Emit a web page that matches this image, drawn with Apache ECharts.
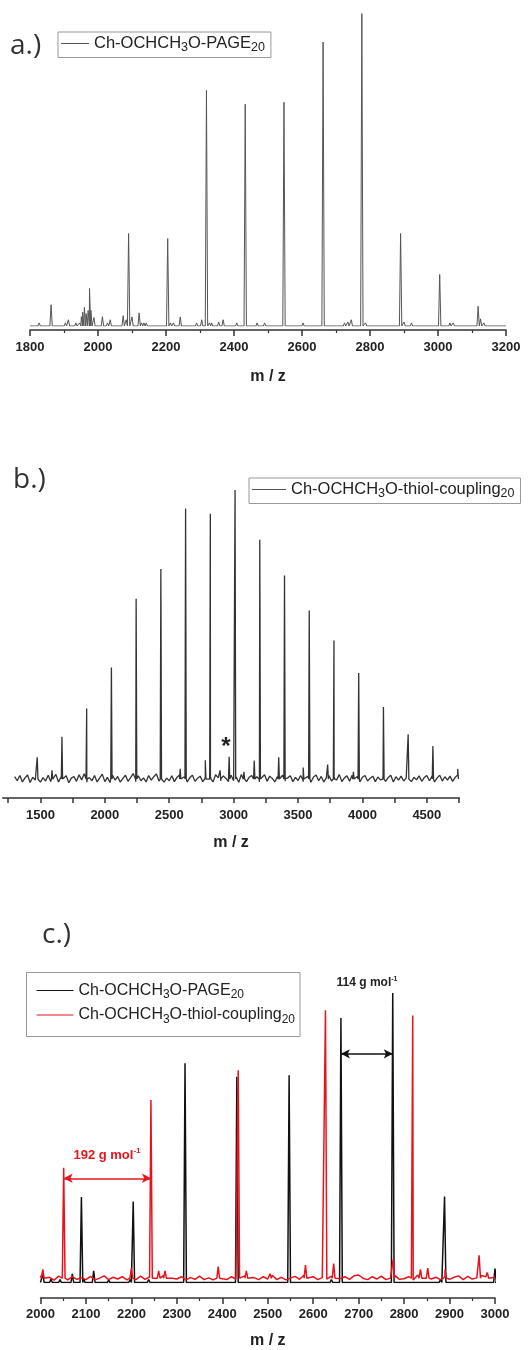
<!DOCTYPE html>
<html><head><meta charset="utf-8">
<script src="https://cdn.jsdelivr.net/npm/echarts@6/dist/echarts.min.js"></script>
<style>html,body{margin:0;padding:0;background:#fff}#c{width:528px;height:1350px}</style>
</head><body><div id="c"></div>
<script>
// ---------- DATA ----------
// Panel a: Ch-OCHCH3O-PAGE20, [m/z, relative intensity]
const aPeaks = [
  [1827,1],[1862,6.8],[1904,1],[1913,2],[1935,1],[1946,1],[1951,3],[1955,4.5],[1960,6],[1965,4],
  [1971,5],[1975,12],[1979,5],[1988,2.7],[2013,3],[2028,1],[2036,2],[2074,3.3],[2083,2],[2090,29.6],
  [2100,2.9],[2121,4.2],[2128,1],[2135,1],[2142,1],[2205,28],[2213,1],[2222,1],[2242,2.9],[2290,1],
  [2305,2],[2319,75.4],[2328,1],[2334,1],[2355,1.3],[2368,2],[2408,1],[2433,71],[2468,1],[2490,1],
  [2547,71.6],[2603,1],[2662,90.9],[2725,1],[2735,1.3],[2745,2],[2776,100],[2787,1],[2890,29.6],[2900,1.3],
  [2922,1],[3005,16.5],[3035,1],[3045,1],[3118,6.3],[3125,2.3],[3135,1]
];
// Panel b: Ch-OCHCH3O-thiol-coupling20 peaks
const bPeaks = [
  [1475,7.5],[1590,3],[1667,14.6],[1859,24.4],[2051,38.6],[2243,62.4],[2435,72.7],[2585,3.5],[2627,93.6],
  [2780,6.5],[2819,91.8],[2895,3],[2965,7.7],[3011,100],[3080,2.5],[3160,6.4],[3203,82.8],[3350,7.5],
  [3395,70.4],[3540,4],[3587,58.3],[3730,5],[3779,47.9],[3930,2.5],[3971,36.7],[4163,24.9],[4355,15.5],
  [4547,11.4],[4740,3.5]
];
// Panel b baseline noise, one value every 20 m/z from 1300
const bNoiseStart = 1300, bNoiseStep = 20;
const bNoise = [
  0.8,-0.6,1.2,-1.0,0.4,1.4,-1.2,0.6,-0.4,1.0,
  -1.1,0.5,-0.7,1.3,-0.9,0.2,1.6,-1.0,0.7,-0.5,
  1.1,-1.3,0.3,0.9,-0.8,1.5,-0.3,1.8,-1.1,0.5,
  -0.6,1.2,-1.0,0.4,1.7,-0.9,0.6,-1.2,1.3,-0.4,
  0.9,-1.1,0.2,1.3,-0.8,0.5,1.9,-0.9,1.1,-0.6,
  0.4,-1.0,1.2,-0.4,0.8,1.8,-0.7,1.0,-1.1,0.3,
  -0.6,1.1,-0.9,0.6,1.4,-0.5,0.9,-1.0,0.5,1.3,
  -0.8,0.3,1.0,-0.9,0.7,-0.3,0.8,-1.0,1.5,0.4,
  -0.7,1.1,0.2,-0.9,1.3,-0.6,0.7,-1.1,1.6,0.3,
  -0.9,0.6,1.2,-0.5,0.8,-1.0,0.5,1.5,-0.8,1.0,
  0.2,-1.0,0.9,-0.4,1.3,-0.8,0.4,1.1,-0.9,0.6,
  -0.5,1.2,-0.9,0.3,1.0,-1.1,0.7,1.4,-0.6,0.9,
  -1.0,0.5,1.2,-0.7,0.8,-0.3,1.6,-0.9,0.4,1.1,
  -0.8,1.3,-0.4,0.9,-1.0,0.6,1.2,-0.7,0.3,1.0,
  -0.9,0.7,-0.3,1.1,-0.8,0.5,1.3,-1.0,0.8,-0.4,
  1.0,-0.7,0.4,1.2,-0.9,0.6,-0.3,1.1,-0.8,0.5,
  1.2,-0.6,0.9,-1.0,0.4,1.3,-0.7,0.8,-0.4,1.0,
  -0.8,0.6,1.4
];
// Panel c: overlay, PAGE20 (black)
const cPagePeaks = [
  [2005,3],[2023,1.2],[2043,1],[2070,3],[2090,29.5],[2095,1.5],[2117,4],[2150,0.8],[2197,1],[2204,28],
  [2238,1],[2318,75.7],[2363,0.6],[2432,71.1],[2547,71.6],[2640,1],[2661,91.4],[2775,100],[2880,1],
  [2889,29.7],[2920,0.6],[3000,4.8]
];
// Panel c: thiol-coupling20 (red) peaks
const cThiolPeaks = [
  [2005,4.5],[2051,39.6],[2200,5],[2243,63],[2260,4],[2274,4],[2391,5.5],[2435,73.3],[2453,4],[2505,3],
  [2583,6],[2627,94],[2645,6.5],[2776,8],[2819,92.2],[2836,4.5],[2852,5],[2890,4.5],[2965,9.4],[2983,3.5]
];
// Panel c red baseline noise, one value every 10 m/z from 2000
const cNoiseStart = 2000, cNoiseStep = 10;
const cThiolNoise = [
  2.4,1.0,1.8,0.8,2.2,1.2,0.9,2.0,1.1,1.6,
  1.0,2.1,0.9,1.5,2.3,1.0,1.8,1.2,2.0,0.9,
  1.4,1.0,2.2,1.1,1.9,0.9,1.6,2.4,1.0,1.5,
  1.2,2.0,0.9,1.7,1.1,2.2,1.0,1.6,0.9,2.1,
  1.3,1.0,2.0,1.2,0.9,2.3,1.1,1.7,1.0,2.0,
  1.2,2.5,1.0,1.8,0.9,1.5,2.1,1.1,2.6,1.3,
  2.0,1.0,1.7,1.2,2.2,1.0,1.4,2.0,1.1,2.3,
  2.6,1.4,1.0,2.0,1.2,2.2,1.0,1.5,2.4,1.1,
  1.3,2.0,0.9,2.6,1.1,2.0,1.2,1.8,1.0,2.2,
  1.1,1.8,2.3,1.0,2.1,1.2,1.6,2.4,2.0,1.3,
  1.8
];
// tick labels
const aTickLabels = [1800,2000,2200,2400,2600,2800,3000,3200];
const bTickLabels = [1500,2000,2500,3000,3500,4000,4500];
const bTickMarks = [1250,1500,1750,2000,2250,2500,2750,3000,3250,3500,3750,4000,4250,4500,4750];
const cTickLabels = [2000,2100,2200,2300,2400,2500,2600,2700,2800,2900,3000];
// annotation data: mass differences between neighbouring peaks
const cDiffPAGE = [2661, 2775];
const cDiffThiol = [2051, 2243];
// series names and legend texts
const seriesNames = ['aPAGE','bThiol','cPAGE','cThiol'];
const legendTexts = {
  aPAGE: '{n|Ch-OCHCH}{s|3}{n|O-PAGE}{s|20}',
  bThiol: '{n|Ch-OCHCH}{s|3}{n|O-thiol-coupling}{s|20}',
  cPAGE: '{n|Ch-OCHCH}{s|3}{n|O-PAGE}{s|20}',
  cThiol: '{n|Ch-OCHCH}{s|3}{n|O-thiol-coupling}{s|20}'
};

// ---------- build ----------
function sticks(peaks, hw, base) {
  const out = [];
  peaks.forEach(p => { out.push([p[0]-hw, base], [p[0], p[1]], [p[0]+hw, base]); });
  return out;
}
function merged(noise, start, step, peaks, hw, base) {
  const pts = noise.map((v,i) => [start + i*step, v]).concat(sticks(peaks, hw, base));
  pts.sort((u,v) => u[0]-v[0]);
  return pts;
}
const aData = [[1800,0]].concat(sticks(aPeaks, 3.5, 0), [[3200,0]]);
const bData = merged(bNoise, bNoiseStart, bNoiseStep, bPeaks, 5, 0);
const cPageData = [[2000,0]].concat(sticks(cPagePeaks, 3, 0), [[3000,0]]);
const cThiolData = merged(cThiolNoise, cNoiseStart, cNoiseStep, cThiolPeaks, 3, 1.5);

const FONT = 'Liberation Sans';
const plain = v => String(v);
const labelStyle = {fontFamily: FONT, fontWeight: 'bold', fontSize: 13, color: '#222', formatter: plain};
const nameStyle = {fontFamily: FONT, fontWeight: 'bold', fontSize: 16, color: '#222'};
const axisLine = {show: true, onZero: false, lineStyle: {color: '#333', width: 1.5}};
function legendText(size) {
  return {
    fontFamily: FONT, fontSize: size, color: '#222',
    rich: {
      n: {fontFamily: FONT, fontSize: size, color: '#222'},
      s: {fontFamily: FONT, fontSize: size - 4, color: '#222', padding: [9,0,0,0]}
    }
  };
}
const legendBase = {
  orient: 'vertical', icon: 'rect', itemHeight: 1, selectedMode: false,
  borderColor: '#999', borderWidth: 1,
  formatter: name => legendTexts[name]
};

const chart = echarts.init(document.getElementById('c'), null, {renderer: 'canvas'});
chart.setOption({
  animation: false,
  backgroundColor: '#fff',
  grid: [
    {left: 30, right: 22, top: 13.6, height: 312.4},
    {left: 2.7, width: 456.6, top: 490, height: 297.7},
    {left: 40.5, right: 33, top: 993, height: 290.5}
  ],
  xAxis: [
    {type: 'value', gridIndex: 0, min: 1800, max: 3200, interval: 200, offset: 4,
     axisLine, splitLine: {show: false},
     axisTick: {show: true, inside: false, length: 6, lineStyle: {color: '#333', width: 1.5}},
     minorTick: {show: true, splitNumber: 2, length: 3, lineStyle: {color: '#333', width: 1.2}},
     axisLabel: {...labelStyle, margin: 11, customValues: aTickLabels},
     name: 'm / z', nameLocation: 'middle', nameGap: 39, nameTextStyle: nameStyle},
    {type: 'value', gridIndex: 1, min: 1207, max: 4752, offset: 10.3,
     axisLine, splitLine: {show: false},
     axisTick: {show: true, length: 5, customValues: bTickMarks, lineStyle: {color: '#333', width: 1.5}},
     axisLabel: {...labelStyle, margin: 11, customValues: bTickLabels},
     name: 'm / z', nameLocation: 'middle', nameGap: 37, nameTextStyle: nameStyle},
    {type: 'value', gridIndex: 2, min: 2000, max: 3000, interval: 100, offset: 15.5,
     axisLine, splitLine: {show: false},
     axisTick: {show: true, length: 6, lineStyle: {color: '#333', width: 1.5}},
     minorTick: {show: true, splitNumber: 2, length: 3, lineStyle: {color: '#333', width: 1.2}},
     axisLabel: {...labelStyle, margin: 10, customValues: cTickLabels},
     name: 'm / z', nameLocation: 'middle', nameGap: 35, nameTextStyle: nameStyle}
  ],
  yAxis: [
    {type: 'value', gridIndex: 0, min: 0, max: 100, show: false},
    {type: 'value', gridIndex: 1, min: -3, max: 100, show: false},
    {type: 'value', gridIndex: 2, min: 0, max: 100, show: false}
  ],
  legend: [
    {...legendBase, data: ['aPAGE'], left: 58, top: 32, itemWidth: 28, padding: [3,6,3,3], textStyle: legendText(16.5)},
    {...legendBase, data: ['bThiol'], left: 249, top: 478, itemWidth: 34, padding: [3,6,3,3], textStyle: legendText(16.5)},
    {...legendBase, data: ['cPAGE','cThiol'], left: 26.5, top: 972.5, itemWidth: 37, itemGap: 6, padding: [10,5,11,10], textStyle: legendText(16)}
  ],
  series: [
    {name: 'aPAGE', type: 'line', xAxisIndex: 0, yAxisIndex: 0, data: aData, showSymbol: false,
     color: '#555', lineStyle: {color: '#555', width: 1}, silent: true},
    {name: 'bThiol', type: 'line', xAxisIndex: 1, yAxisIndex: 1, data: bData, showSymbol: false,
     color: '#555', lineStyle: {color: '#333', width: 1.3}, silent: true},
    {name: 'cPAGE', type: 'line', xAxisIndex: 2, yAxisIndex: 2, data: cPageData, showSymbol: false,
     color: '#111', lineStyle: {color: '#111', width: 1.5}, silent: true,
     markLine: {silent: true, symbol: ['arrow','arrow'], symbolSize: [7,9], label: {show: false},
       lineStyle: {color: '#111', width: 1.5, type: 'solid'},
       data: [[{coord: [cDiffPAGE[0], 79]}, {coord: [cDiffPAGE[1], 79]}]]}},
    {name: 'cThiol', type: 'line', xAxisIndex: 2, yAxisIndex: 2, data: cThiolData, showSymbol: false,
     color: '#e8141c', lineStyle: {color: '#e8141c', width: 1.5}, silent: true,
     markLine: {silent: true, symbol: ['arrow','arrow'], symbolSize: [7,9], label: {show: false},
       lineStyle: {color: '#e8141c', width: 1.5, type: 'solid'},
       data: [[{coord: [cDiffThiol[0], 36]}, {coord: [cDiffThiol[1], 36]}]]}}
  ],
  graphic: [
    {type: 'text', x: 10, y: 46, style: {text: 'a.)', font: '28px "Open Sans"', fill: '#333', verticalAlign: 'middle'}},
    {type: 'text', x: 13, y: 480, style: {text: 'b.)', font: '28px "Open Sans"', fill: '#333', verticalAlign: 'middle'}},
    {type: 'text', x: 42, y: 935, style: {text: 'c.)', font: '28px "Open Sans"', fill: '#333', verticalAlign: 'middle'}},
    {type: 'text', x: 226, y: 747, style: {text: '*', font: 'bold 24px "Liberation Sans"', fill: '#222', align: 'center', verticalAlign: 'middle'}},
    {type: 'text', x: 367, y: 983, style: {text: '114 g mol{p|-1}', font: 'bold 12px "Liberation Sans"', fill: '#222', align: 'center', verticalAlign: 'middle',
      rich: {p: {fontFamily: FONT, fontSize: 7, fontWeight: 'bold', fill: '#222', padding: [0,0,8,0]}}}},
    {type: 'text', x: 107, y: 1155, style: {text: '192 g mol{p|-1}', font: 'bold 13px "Liberation Sans"', fill: '#e8141c', align: 'center', verticalAlign: 'middle',
      rich: {p: {fontFamily: FONT, fontSize: 8, fontWeight: 'bold', fill: '#e8141c', padding: [0,0,9,0]}}}}
  ]
});
</script></body></html>
